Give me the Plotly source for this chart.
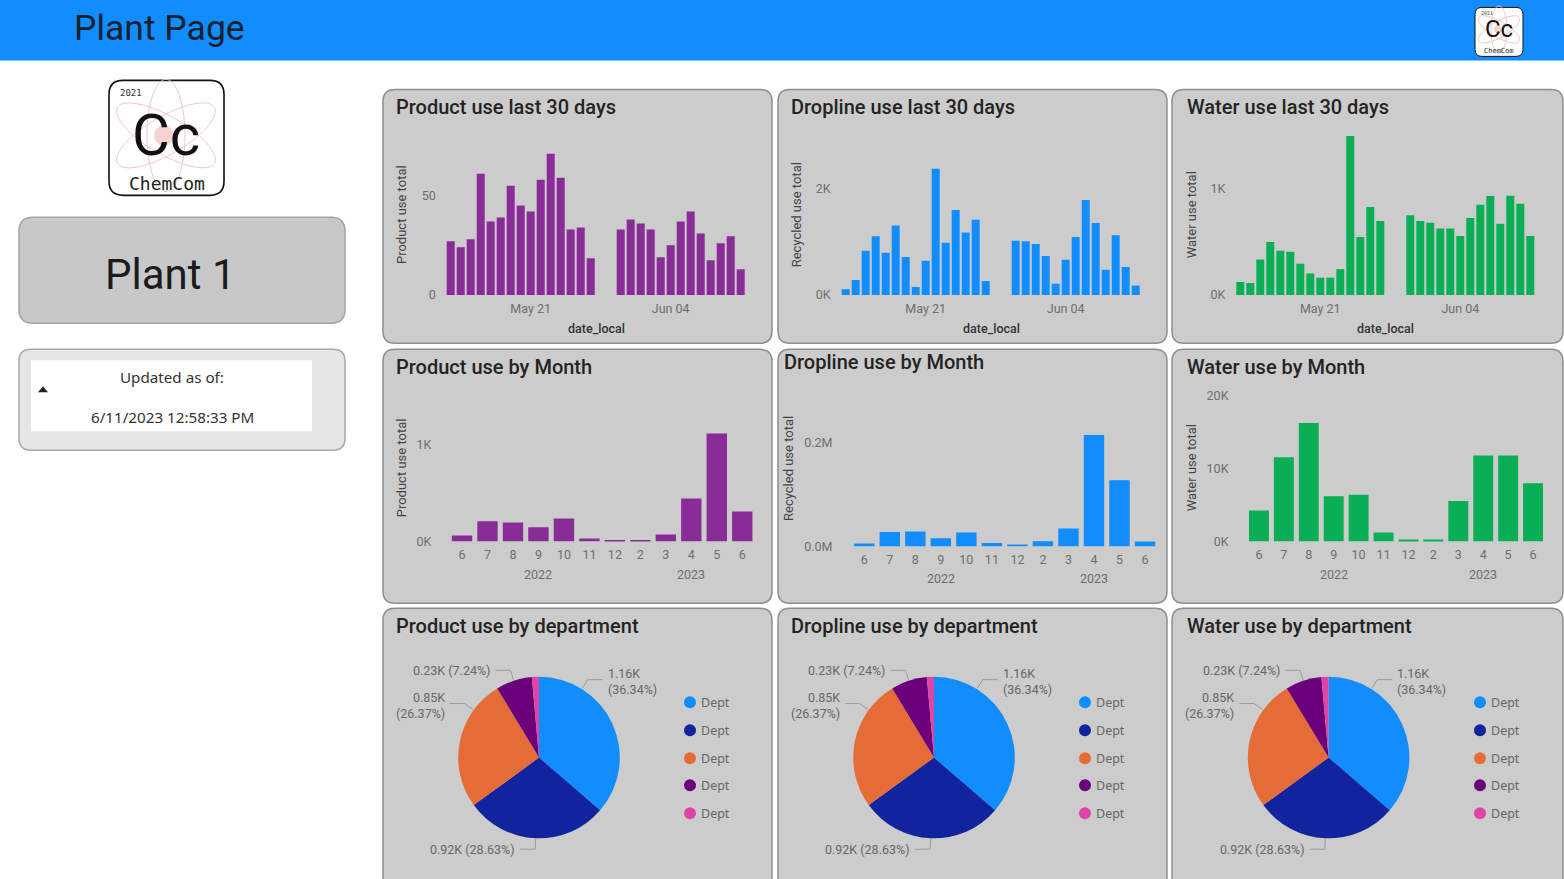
import math
import plotly.graph_objects as go

W, H = 1564, 879
# the photographed page comes out very slightly squeezed vertically; compensate
V_OFF, V_SCALE = 1.6, 0.99

# ------------------------------------------------------------------ data
dates_30d = [
    "2023-05-13", "2023-05-14", "2023-05-15", "2023-05-16", "2023-05-17",
    "2023-05-18", "2023-05-19", "2023-05-20", "2023-05-21", "2023-05-22",
    "2023-05-23", "2023-05-24", "2023-05-25", "2023-05-26", "2023-05-27",
    "2023-05-30", "2023-05-31", "2023-06-01", "2023-06-02", "2023-06-03",
    "2023-06-04", "2023-06-05", "2023-06-06", "2023-06-07", "2023-06-08",
    "2023-06-09", "2023-06-10", "2023-06-11",
]
product_30d = [27, 24, 28, 61, 37, 39, 55, 45, 42, 58, 71, 59, 33, 34, 18.5,
               33, 38, 36, 33, 19, 25, 37, 42, 31, 17.5, 26, 29.5, 13]
dropline_30d = [107, 283, 836, 1107, 799, 1314, 717, 151, 648, 2384, 987, 1604, 1182, 1421, 264,
                1025, 1013, 962, 736, 214, 667, 1094, 1792, 1358, 478, 1126, 528, 182]
water_30d = [123, 113, 336, 500, 418, 409, 296, 204, 164, 164, 245, 1500, 547, 830, 698,
             752, 698, 682, 629, 629, 557, 726, 852, 934, 673, 937, 862, 557]
date_ticks = ["2023-05-21", "2023-06-04"]
date_tick_labels = ["May 21", "Jun 04"]

month_years = ["2022"] * 7 + ["2023"] * 5
month_labels = ["6", "7", "8", "9", "10", "11", "12", "2", "3", "4", "5", "6"]
product_month = [62, 210, 197, 148, 238, 31, 17, 17, 72, 445, 1117, 310]
dropline_month = [5800, 28000, 29000, 16000, 27000, 7000, 4000, 10000, 34500, 214000, 127000, 9600]
water_month = [4250, 11550, 16250, 6200, 6400, 1230, 270, 270, 5570, 11780, 11780, 8000]

dept_names = ["Dept", "Dept", "Dept", "Dept", "Dept"]
dept_product = [1164.7, 917.6, 845.2, 232.0, 45.5]
dept_dropline = [1164.7, 917.6, 845.2, 232.0, 45.5]
dept_water = [1164.7, 917.6, 845.2, 232.0, 45.5]

# ------------------------------------------------------------------ styles
PURPLE = "#8A2C97"
BLUE = "#118DFF"
GREEN = "#0AAF55"
DEPT_COLORS = ["#118DFF", "#12239E", "#E66C37", "#6B007B", "#E044A7"]
PANEL_FILL = "#CCCCCC"
PANEL_LINE = "#8E8E8E"
TITLE_C = "#252423"
TICK_C = "#6E6E6E"
FONT = "Roboto, sans-serif"
SEGOE = "Noto Sans, sans-serif"
MONO = "DejaVu Sans Mono, monospace"


def X(v):
    return v / W


def Y(v):
    return 1 - ((v - V_OFF) / V_SCALE) / H


def rrect(x0, y0, x1, y1, r):
    f = lambda a, b: f"{X(a):.6f} {Y(b):.6f}"
    return (f"M {f(x0 + r, y0)} L {f(x1 - r, y0)} Q {f(x1, y0)} {f(x1, y0 + r)} "
            f"L {f(x1, y1 - r)} Q {f(x1, y1)} {f(x1 - r, y1)} L {f(x0 + r, y1)} "
            f"Q {f(x0, y1)} {f(x0, y1 - r)} L {f(x0, y0 + r)} Q {f(x0, y0)} {f(x0 + r, y0)} Z")


shapes = []
annotations = []


def box(x0, y0, x1, y1, r, fill, line, lw=1.5, layer="below"):
    shapes.append(dict(type="path", path=rrect(x0, y0, x1, y1, r), xref="paper", yref="paper",
                       fillcolor=fill, line=dict(color=line, width=lw), layer=layer))


def text(x, y, s, size, color, xanchor="left", family=FONT, angle=0, align="left", weight=None,
         xref="paper"):
    fnt = dict(size=size, color=color, family=family)
    if weight:
        fnt["weight"] = weight
    annotations.append(dict(x=X(x) if xref == "paper" else x, y=Y(y), xref=xref, yref="paper", text=s,
                            showarrow=False, xanchor=xanchor, yanchor="middle", font=fnt,
                            textangle=angle, align=align))


# ------------------------------------------------------------------ header
shapes.append(dict(type="rect", xref="paper", yref="paper", x0=0, x1=1, y0=Y(60), y1=1.01,
                   fillcolor="#118DFF", line=dict(width=0), layer="below"))
text(72, 28, "Plant Page", 35.5, "#16202e")


def logo(cx, cy, s, x0, y0, x1, y1, r, lw, sizes):
    box(x0, y0, x1, y1, r, "white", "#111111", lw, layer="above")
    for ang in (90, 30, 150):
        th = math.radians(ang)
        a, b = 56 * s, 19 * s
        pts = []
        for k in range(73):
            t = 2 * math.pi * k / 72
            px = cx + a * math.cos(t) * math.cos(th) - b * math.sin(t) * math.sin(th)
            py = cy + a * math.cos(t) * math.sin(th) + b * math.sin(t) * math.cos(th)
            pts.append(f"{X(px):.6f} {Y(py):.6f}")
        shapes.append(dict(type="path", path="M " + " L ".join(pts) + " Z", xref="paper", yref="paper",
                           line=dict(color="#F0C6C6", width=1), layer="above"))
    rr = 10 * s
    shapes.append(dict(type="circle", xref="paper", yref="paper", x0=X(cx - 2 * s - rr), x1=X(cx - 2 * s + rr),
                       y0=Y(cy + rr), y1=Y(cy - rr), fillcolor="#F6D3D3", line=dict(width=0), layer="above"))
    text(x0 + 9 * s, y0 + 13 * s, "2021", sizes[0], "#333333", family=MONO)
    text(cx, cy, "Cc", sizes[1], "#111111", xanchor="center")
    text(cx + 1 * s, y0 + 103 * s, "ChemCom", sizes[2], "#222222", xanchor="center", family=MONO)


logo(166, 135, 1.0, 109, 80, 224, 195, 14, 1.6, (9, 58, 18))
logo(1499, 29, 0.42, 1475, 7, 1523, 56, 7, 1, (5, 24, 7))

# ------------------------------------------------------------------ left panel
box(19, 217, 345, 323, 14, "#C8C8C8", "#A3A3A3")
text(170, 274, "Plant 1", 42, "#1b1b1b", xanchor="center")
box(19, 349, 345, 450, 12, "#E6E6E6", "#A8A8A8")
shapes.append(dict(type="rect", xref="paper", yref="paper", x0=X(31), x1=X(312), y0=Y(431), y1=Y(360),
                   fillcolor="white", line=dict(width=0), layer="below"))
shapes.append(dict(type="path", xref="paper", yref="paper",
                   path=f"M {X(38)} {Y(392)} L {X(48)} {Y(392)} L {X(43)} {Y(386)} Z",
                   fillcolor="#222222", line=dict(width=0)))
text(172, 377, "Updated as of:", 15.2, "#333333", xanchor="center", family=SEGOE)
text(172, 417, "6/11/2023 12:58:33 PM", 15.2, "#333333", xanchor="center", family=SEGOE)

# ------------------------------------------------------------------ panels
col_left = [383, 778, 1172]
col_right = [772, 1167, 1563]
row_top = [89, 349, 608]
row_bot = [343, 603, 905]
for r_ in range(3):
    for c_ in range(3):
        box(col_left[c_], row_top[r_], col_right[c_], row_bot[r_], 12, PANEL_FILL, PANEL_LINE)

titles = [
    [("Product use last 30 days", 394, 107), ("Dropline use last 30 days", 789, 107), ("Water use last 30 days", 1185, 107)],
    [("Product use by Month", 394, 367), ("Dropline use by Month", 782, 362), ("Water use by Month", 1185, 367)],
    [("Product use by department", 394, 626), ("Dropline use by department", 789, 626), ("Water use by department", 1185, 626)],
]
for row in titles:
    for s, x, y in row:
        text(x, y, s, 20, TITLE_C, weight=500)

# ------------------------------------------------------------------ bar charts
fig = go.Figure()
layout_axes = {}
tickfont = dict(size=12.5, color=TICK_C, family=FONT)


def add_bar(i, xs, ys, color, xdom, ydom, xaxis_cfg, yrange, ytv, ytt, ystand):
    xa = "x" if i == 1 else f"x{i}"
    ya = "y" if i == 1 else f"y{i}"
    fig.add_trace(go.Bar(x=xs, y=ys, marker=dict(color=color, line=dict(width=0)),
                         xaxis=xa, yaxis=ya, showlegend=False, hoverinfo="x+y"))
    xcfg = dict(domain=[X(xdom[0]), X(xdom[1])], anchor=ya, showgrid=False, zeroline=False,
                showline=False, ticks="", tickfont=tickfont, ticklabelstandoff=4, fixedrange=True)
    xcfg.update(xaxis_cfg)
    layout_axes["xaxis" if i == 1 else f"xaxis{i}"] = xcfg
    layout_axes["yaxis" if i == 1 else f"yaxis{i}"] = dict(
        domain=[Y(ydom[1]), Y(ydom[0])], anchor=xa, range=yrange, showgrid=False, zeroline=False,
        showline=False, ticks="", tickvals=ytv, ticktext=ytt, tickfont=tickfont,
        ticklabelstandoff=ystand, fixedrange=True)
    return xa


date_axis = dict(type="date", range=["2023-05-12 12:00", "2023-06-11 12:00"],
                 tickvals=date_ticks, ticktext=date_tick_labels)
add_bar(1, dates_30d, product_30d, PURPLE, (445.7, 745.7), (130, 294.7), date_axis,
        [0, 82.8], [0, 50], ["0", "50"], 9)
add_bar(2, dates_30d, dropline_30d, BLUE, (840.7, 1140.7), (130, 294.7), date_axis,
        [0, 3107], [0, 2000], ["0K", "2K"], 9)
add_bar(3, dates_30d, water_30d, GREEN, (1235.3, 1535.3), (130, 294.7), date_axis,
        [0, 1554], [0, 1000], ["0K", "1K"], 9)

month_keys = [f"{y}-{m}" for y, m in zip(month_years, month_labels)]
month_axis = dict(type="category", range=[-0.5, len(month_keys) - 0.5],
                  tickvals=month_keys, ticktext=month_labels)
year_groups = []
for yv in dict.fromkeys(month_years):
    idx = [k for k, v in enumerate(month_years) if v == yv]
    year_groups.append((yv, sum(idx) / len(idx)))

for i, vals, color, xd, yd, yr, tv, tt, st, year_y in [
    (4, product_month, PURPLE, (449.3, 755), (395, 541.3), [0, 1513], [0, 1000], ["0K", "1K"], 17, 574.7),
    (5, dropline_month, BLUE, (851.5, 1157.8), (395, 546.3), [0, 290000], [0, 200000], ["0.0M", "0.2M"], 18, 578.7),
    (6, water_month, GREEN, (1246.5, 1545.5), (390, 541.3), [0, 20730], [0, 10000, 20000], ["0K", "10K", "20K"], 17, 574.7),
]:
    xa = add_bar(i, month_keys, vals, color, xd, yd, month_axis, yr, tv, tt, st)
    for yv, center in year_groups:
        text(center, year_y, yv, 12.5, TICK_C, xanchor="center", xref=xa)

# axis titles
for x in (596, 991, 1385.5):
    text(x, 328, "date_local", 12.5, "#333333", xanchor="center", weight=500)
for x, y, s in [(401, 214.7, "Product use total"), (796.3, 214.7, "Recycled use total"),
                (1191.3, 214.7, "Water use total"), (401, 468, "Product use total"),
                (788.7, 468, "Recycled use total"), (1191, 468, "Water use total")]:
    text(x, y, s, 13, "#444444", xanchor="center", angle=-90)

# ------------------------------------------------------------------ pies
PIE_R = 80.8
PIE_CY = 757.3
label_angle_override = [32, None, 306, None, None]
show_label = [True, True, True, True, False]
two_line = [True, False, True, False, False]
legend_y = [702, 730, 758, 785, 813]


def add_pie(values, cx, legend_x):
    fig.add_trace(go.Pie(values=values, sort=False, direction="clockwise", rotation=0,
                         domain=dict(x=[X(cx - PIE_R), X(cx + PIE_R)], y=[Y(PIE_CY + PIE_R), Y(PIE_CY - PIE_R)]),
                         marker=dict(colors=DEPT_COLORS, line=dict(width=0)), textinfo="none",
                         showlegend=False, hoverinfo="value+percent"))
    total = sum(values)
    cum = 0.0
    for i, v in enumerate(values):
        a0 = cum / total * 360
        cum += v
        a1 = cum / total * 360
        if not show_label[i]:
            continue
        ang = label_angle_override[i] if label_angle_override[i] is not None else (a0 + a1) / 2
        t = math.radians(ang)
        sx, sy = math.sin(t), -math.cos(t)
        p0 = (cx + (PIE_R + 1) * sx, PIE_CY + (PIE_R + 1) * sy)
        p1 = (cx + (PIE_R + 11) * sx, PIE_CY + (PIE_R + 11) * sy)
        d = 1 if sx >= 0 else -1
        p2 = (p1[0] + 15 * d, p1[1])
        shapes.append(dict(type="path", xref="paper", yref="paper",
                           path=f"M {X(p0[0])} {Y(p0[1])} L {X(p1[0])} {Y(p1[1])} L {X(p2[0])} {Y(p2[1])}",
                           line=dict(color="#9A9A9A", width=1)))
        val = f"{v / 1000:.2f}K"
        pct = f"({v / total * 100:.2f}%)"
        s = f"{val}<br>{pct}" if two_line[i] else f"{val} {pct}"
        text(p2[0] + 3 * d, p2[1] + (2 if two_line[i] else 0), s, 12.5, "#666666",
             xanchor="left" if d > 0 else "right", align="left" if d > 0 else "right")
    for k, name in enumerate(dept_names):
        ly = legend_y[k]
        shapes.append(dict(type="circle", xref="paper", yref="paper", x0=X(legend_x - 6), x1=X(legend_x + 6),
                           y0=Y(ly + 6), y1=Y(ly - 6), fillcolor=DEPT_COLORS[k], line=dict(width=0)))
        text(legend_x + 9, ly, name, 12.5, "#666666", family=SEGOE)


add_pie(dept_product, 539, 690)
add_pie(dept_dropline, 934, 1085)
add_pie(dept_water, 1328.6, 1480)

fig.update_layout(
    width=W, height=H, margin=dict(l=0, r=0, t=0, b=0, pad=0),
    paper_bgcolor="white", plot_bgcolor="rgba(0,0,0,0)",
    bargap=0.2, showlegend=False, font=dict(family=FONT),
    shapes=shapes, annotations=annotations, **layout_axes,
)

reset_css = (
    "var s=document.createElement('style');"
    "s.textContent='html,body{margin:0;padding:0;overflow:hidden;height:879px;}"
    "body>div{display:block;height:879px;overflow:hidden;}';"
    "document.head.appendChild(s);"
)
fig.write_html("out.html", config=dict(displayModeBar=False), post_script=reset_css)
